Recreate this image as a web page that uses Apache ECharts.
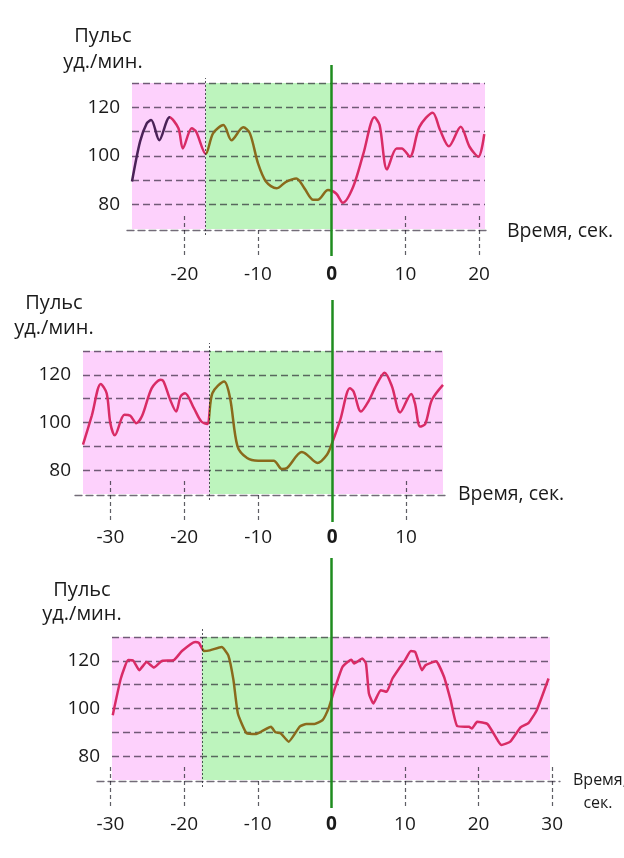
<!DOCTYPE html>
<html><head><meta charset="utf-8">
<script src="https://cdn.jsdelivr.net/npm/echarts@6/dist/echarts.min.js"></script>
<style>html,body{margin:0;padding:0;background:#fff}#c{width:624px;height:858px}</style>
</head><body><div id="c"></div>
<script>
// ---- data (time, s  /  pulse, beats per min) ----
const t1 = [-27.1,-26.0,-25.1,-24.5,-23.4,-22.0,-20.8,-20.2,-19.0,-18.4,-17.1,-16.1,-14.7,-13.6,-12.0,-11.1,-10.0,-8.9,-7.5,-6.2,-4.8,-3.7,-2.5,-1.9,-0.5,0.6,1.5,2.9,4.3,5.8,6.5,7.5,8.8,9.5,10.6,11.9,13.7,14.7,15.9,17.5,18.7,19.9,20.7];
const p1 = [89.5,106,113.4,114.8,106.5,115.9,111.4,103.1,111.4,110,100.8,109.3,112.7,106.5,111.8,109.3,97,89.4,86.7,89.4,90.8,86.7,82,82,86,84.6,80.8,87.3,101,115.9,112.7,94.5,103.1,103.1,99.7,112,117.8,110.7,104,112,103.8,99.7,109];
const t2 = [-33.7,-32.5,-31.3,-30.5,-30.0,-29.4,-28.1,-27.3,-26.5,-25.7,-24.4,-23.2,-22.8,-21.9,-21.1,-20.5,-19.9,-18.7,-17.7,-16.9,-16.2,-14.6,-13.8,-12.8,-11.5,-10.0,-7.9,-6.8,-6.1,-4.1,-3.4,-2.0,-0.7,0,1.1,2.4,2.9,3.9,4.9,6.0,7.1,8.1,9.2,10.7,11.2,11.9,12.6,13.5,15.0];
const p2 = [90.7,103,116.2,112.3,99.7,94.6,103.2,102.8,99.7,102.8,114.4,117.9,117.2,109.5,104.6,110.9,112.3,106,100.4,99.4,112.3,117.2,110.2,90,85.1,84,84,80.5,80.9,87.6,86.5,83,86.5,91.4,101.1,114.4,113,104.6,108.8,115.8,120.9,115.1,104.2,112,108.1,98.3,99.4,109.5,115.8];
const t3 = [-29.7,-28.6,-27.6,-26.9,-26.1,-25.1,-24.1,-23.0,-21.4,-20.3,-18.5,-18.0,-17.3,-16.5,-14.9,-14.0,-13.3,-12.7,-11.5,-10.2,-9.3,-8.2,-7.6,-6.9,-5.8,-4.3,-3.4,-2.3,-1.2,-0.3,0.4,1.5,2.7,3.1,4.2,4.7,5.1,5.7,6.7,7.5,8.3,9.2,10.0,10.8,11.4,12.3,12.8,14.2,15.3,16.2,17.1,18.7,19.1,19.8,21.2,22.7,23.1,24.3,25.7,26.8,27.9,29.5];
const p3 = [97.2,112.6,120.3,120,116.1,119.5,117.2,120,120.3,124.1,127.9,127.5,124.1,124.4,125.8,122.3,111.9,97.9,89.6,89.3,90.7,92.3,90,89.6,86.1,92.4,93.5,93.5,95.1,100.7,107.7,117.4,120.5,118.9,121,118.9,106.3,102.1,107.7,107,112.6,116.8,120.3,124.1,123.7,116.1,118.2,119.8,113.3,103.5,92.6,92.3,91.6,94.4,93.5,86.1,84.7,86.1,92.1,94,99.3,112.6];
const stimStart = [-17.1, -16.6, -17.6];   // start of green phase
const earlyEnd1 = -22;                     // end of dark segment, panel 1
const yTicks = [70, 130];                  // pulse axis extent
const yLabels = [80, 100, 120];
const xLabels1 = [-20, -10, 0, 10, 20];
const xLabels2 = [-30, -20, -10, 0, 10];
const xLabels3 = [-30, -20, -10, 0, 10, 20, 30];
const yTitle = ['Пульс', 'уд./мин.'];
const xTitle = 'Время, сек.';
const xTitle3 = ['Время,', 'сек.'];

// ---- styles ----
const W = 624, H = 858;
const PINK = '#fdd1fc', GREEN = '#bdf4bd';
const CRIMSON = '#d92b66', OLIVE = '#8a6a1c', PURPLE = '#4a2258', ZERO = '#1f8c1f';
const GRIDC = 'rgba(20,10,30,0.6)';
const TXT = '#1a1a1a';
const FONT = '"Open Sans", "Noto Sans", sans-serif';

const layout = [
  {t:t1,p:p1,xl:xLabels1,xmin:-27.1,xmax:20.8,main:{left:132,right:139,top:83,bottom:629},
   zero:{top:65,bottom:602},bound:{top:78,bottom:623},strip:{top:215,bottom:603},labMargin:10,smooth:0.3,ext:[5,5]},
  {t:t2,p:p2,xl:xLabels2,xmin:-33.7,xmax:15.0,main:{left:83,right:181,top:351,bottom:364},
   zero:{top:300,bottom:336},bound:{top:343,bottom:358},strip:{top:480,bottom:338},labMargin:8,smooth:0.3,ext:[8,4]},
  {t:t3,p:p3,xl:xLabels3,xmin:-29.8,xmax:29.7,main:{left:112,right:74,top:637,bottom:78},
   zero:{top:558,bottom:50},bound:{top:627,bottom:71},strip:{top:766,bottom:52},labMargin:9,smooth:0.15,ext:[15,10]}
];

const grid = [], xAxis = [], yAxis = [], series = [], visualMap = [];
layout.forEach((L, i) => {
  const addGrid = g => { grid.push(Object.assign({containLabel:false}, g)); return grid.length - 1; };
  const hiddenX = gi => xAxis.push({gridIndex:gi,type:'value',min:L.xmin,max:L.xmax,show:false}) - 1;
  const hiddenY = gi => yAxis.push({gridIndex:gi,type:'value',min:0,max:1,show:false}) - 1;
  const scale = (W - L.main.left - L.main.right) / (L.xmax - L.xmin);

  // main plot
  const gm = addGrid(Object.assign({}, L.main, {show:true, backgroundColor:PINK, borderWidth:0}));
  const xm = xAxis.push({gridIndex:gm,type:'value',min:L.xmin,max:L.xmax,
    axisLine:{show:false},axisTick:{show:false},axisLabel:{show:false},splitLine:{show:false}}) - 1;
  const ym = yAxis.push({gridIndex:gm,type:'value',min:yTicks[0],max:yTicks[1],interval:10,z:2,
    axisLine:{show:false},axisTick:{show:false},
    axisLabel:{fontSize:19,color:TXT,margin:12,fontFamily:FONT,
      formatter:v=>yLabels.indexOf(v)>=0?String(v):''},
    splitLine:{show:true,showMinLine:false,lineStyle:{type:[7,4],color:GRIDC,width:1.3}}}) - 1;
  // green phase area
  series.push({type:'line',data:[],xAxisIndex:xm,yAxisIndex:ym,z:1,silent:true,
    markArea:{silent:true,itemStyle:{color:GREEN},data:[[{xAxis:stimStart[i]},{xAxis:0}]]}});
  // pulse line
  const si = series.push({type:'line',xAxisIndex:xm,yAxisIndex:ym,z:3,showSymbol:false,smooth:L.smooth,
    silent:true,lineStyle:{width:2.5},data:L.t.map((x,k)=>[x,L.p[k]])}) - 1;
  const pieces = [];
  if (i === 0) { pieces.push({lt:earlyEnd1,color:PURPLE}); pieces.push({gte:earlyEnd1,lt:stimStart[i],color:CRIMSON}); }
  else pieces.push({lt:stimStart[i],color:CRIMSON});
  pieces.push({gte:stimStart[i],lt:0,color:OLIVE});
  pieces.push({gte:0,color:CRIMSON});
  visualMap.push({type:'piecewise',show:false,dimension:0,seriesIndex:si,pieces:pieces});

  // extended dashed baseline (time axis)
  const base = H - L.main.bottom;
  const gl = addGrid({left:L.main.left - L.ext[0], right:L.main.right - L.ext[1], top:base, height:1});
  xAxis.push({gridIndex:gl,type:'value',position:'top',min:L.xmin - L.ext[0]/scale,max:L.xmax + L.ext[1]/scale,z:2,
    axisLine:{show:true,lineStyle:{type:[7,4],color:GRIDC,width:1.3}},axisTick:{show:false},axisLabel:{show:false},splitLine:{show:false}});
  yAxis.push({gridIndex:gl,type:'value',min:0,max:1,show:false});

  // boundary dotted line
  const gb = addGrid({left:L.main.left,right:L.main.right,top:L.bound.top,bottom:L.bound.bottom});
  series.push({type:'line',data:[],xAxisIndex:hiddenX(gb),yAxisIndex:hiddenY(gb),silent:true,
    markLine:{silent:true,symbol:['none','none'],label:{show:false},
      lineStyle:{type:[2,2],color:'rgba(30,30,40,0.75)',width:1},data:[{xAxis:stimStart[i]}]}});
  // zero line
  const gz = addGrid({left:L.main.left,right:L.main.right,top:L.zero.top,bottom:L.zero.bottom});
  series.push({type:'line',data:[],xAxisIndex:hiddenX(gz),yAxisIndex:hiddenY(gz),silent:true,
    markLine:{silent:true,symbol:['none','none'],label:{show:false},
      lineStyle:{type:'solid',color:ZERO,width:2.5},data:[{xAxis:0}]}});
  // tick strip + labels (range widened so end labels fit)
  const smin = Math.min(L.xmin, L.xl[0] - 1), smax = Math.max(L.xmax, L.xl[L.xl.length-1] + 1);
  const zeroPx = L.main.left - L.xmin * scale;
  const gs = addGrid({left:zeroPx + smin*scale, right:W - (zeroPx + smax*scale), top:L.strip.top, bottom:L.strip.bottom});
  const stripH = H - L.strip.top - L.strip.bottom;
  xAxis.push({gridIndex:gs,type:'value',min:smin,max:smax,position:'bottom',
    axisLine:{show:false},splitLine:{show:false},
    axisTick:{show:true,inside:true,length:stripH,customValues:L.xl.filter(v=>v!==0),
      lineStyle:{type:[4,3],color:'rgba(40,40,50,0.75)',width:1.2}},
    axisLabel:{customValues:L.xl,margin:L.labMargin,fontSize:19,color:TXT,fontFamily:FONT,
      formatter:v=>v===0?'{b|0}':String(v),rich:{b:{fontWeight:'bold',fontSize:19,color:TXT,fontFamily:FONT}}}});
  yAxis.push({gridIndex:gs,type:'value',min:0,max:1,show:false});
});

const txt = (s,x,y,size,align) => ({type:'text',x:x,y:y,silent:true,
  style:{text:s,fill:TXT,font:size+'px '+FONT,textAlign:align||'center',textVerticalAlign:'middle'}});
const graphic = [
  txt(yTitle[0],103,36,20), txt(yTitle[1],103,62,20),
  txt(yTitle[0],54,303,20), txt(yTitle[1],54,328,20),
  txt(yTitle[0],82,590,20), txt(yTitle[1],82,614,20),
  txt(xTitle,507,231,19.5,'left'),
  txt(xTitle,458,494,19.5,'left'),
  txt(xTitle3[0],573,780,16,'left'), txt(xTitle3[1],598,803,16)
];

const chart = echarts.init(document.getElementById('c'), null, {renderer:'canvas'});
chart.setOption({animation:false,grid,xAxis,yAxis,series,visualMap,graphic});
</script></body></html>
